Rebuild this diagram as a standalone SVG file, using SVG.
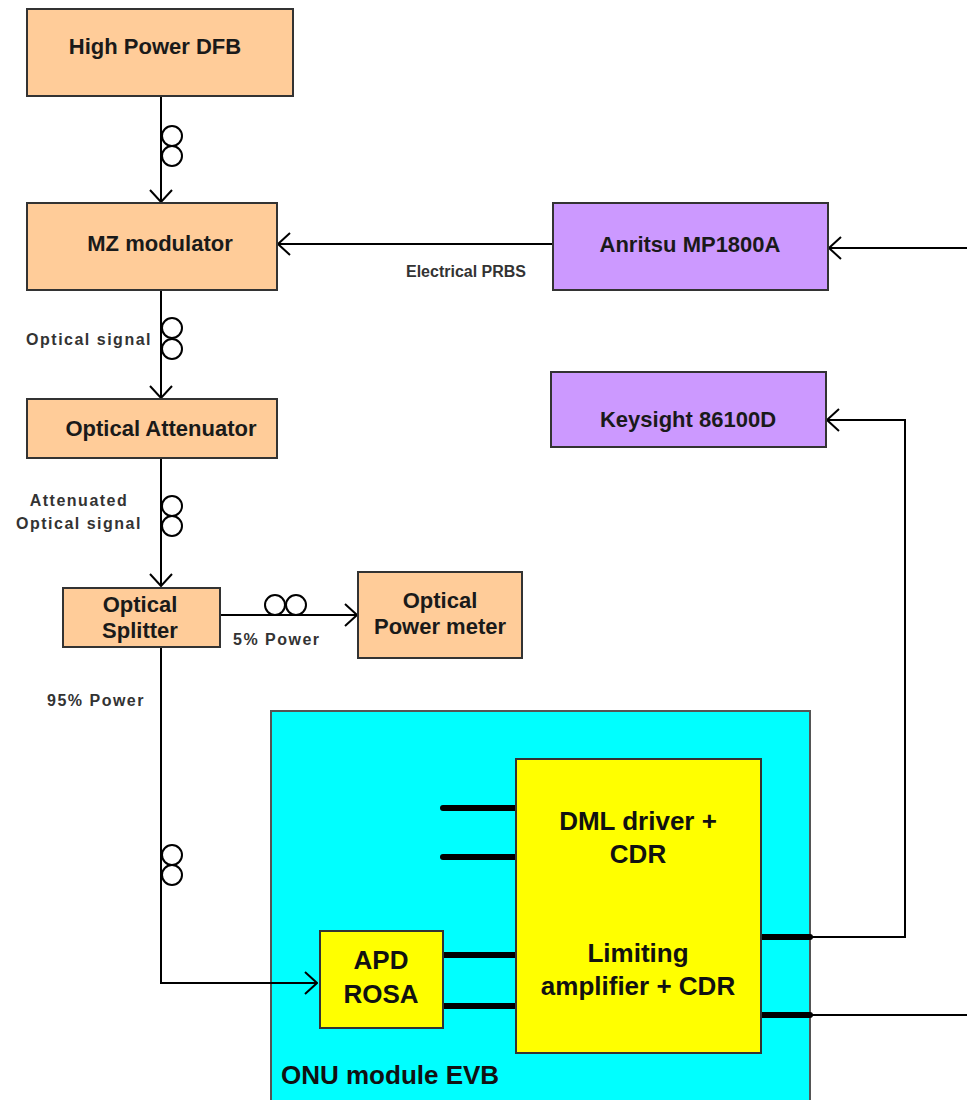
<svg xmlns="http://www.w3.org/2000/svg" width="967" height="1100" viewBox="0 0 967 1100">
<style>
.box{stroke:#333;stroke-width:2}
.org{fill:#FFCC99}
.pur{fill:#CC99FF}
.cyan{fill:#00FFFF;stroke:#555;stroke-width:2}
.yel{fill:#FFFF00;stroke:#333;stroke-width:2}
.lbl{font-family:"Liberation Sans",Arial,sans-serif;font-weight:bold;font-size:22px;fill:#1a1a1a;text-anchor:middle}
.big{font-family:"Liberation Sans",Arial,sans-serif;font-weight:bold;font-size:26px;fill:#111;text-anchor:middle}
.sm{font-family:"Liberation Sans",Arial,sans-serif;font-weight:bold;font-size:16px;fill:#333;letter-spacing:1.5px}
.ln{fill:none;stroke:#000;stroke-width:2}
.coil{fill:#fff;stroke:#000;stroke-width:2}
.stub{stroke:#000;stroke-width:6;stroke-linecap:round}
</style>
<defs>
<marker id="arr" viewBox="0 0 14 24" refX="13" refY="12" markerWidth="14" markerHeight="24" markerUnits="userSpaceOnUse" orient="auto">
<path d="M1,1 L13,12 L1,23" fill="none" stroke="#000" stroke-width="2"/>
</marker>
</defs>
<g id="onu">
<rect class="cyan" x="271" y="711" width="539" height="400"/>
<text class="big" x="281" y="1084" style="text-anchor:start">ONU module EVB</text>
</g>
<g id="connectors">
<line class="ln" x1="161" y1="96" x2="161" y2="202" marker-end="url(#arr)"/>
<line class="ln" x1="161" y1="290" x2="161" y2="398" marker-end="url(#arr)"/>
<line class="ln" x1="161" y1="458" x2="161" y2="586" marker-end="url(#arr)"/>
<line class="ln" x1="553" y1="244" x2="278" y2="244" marker-end="url(#arr)"/>
<line class="ln" x1="967" y1="248" x2="829" y2="248" marker-end="url(#arr)"/>
<line class="ln" x1="220" y1="615" x2="357" y2="615" marker-end="url(#arr)"/>
<polyline class="ln" points="161,647 161,983 317,983" marker-end="url(#arr)"/>
<polyline class="ln" points="810,937 905,937 905,420 827,420" marker-end="url(#arr)"/>
<line class="ln" x1="810" y1="1015" x2="967" y2="1015"/>
<circle class="coil" cx="172" cy="136" r="10"/>
<circle class="coil" cx="172" cy="156" r="10"/>
<circle class="coil" cx="172" cy="328" r="10"/>
<circle class="coil" cx="172" cy="349" r="10"/>
<circle class="coil" cx="172" cy="506" r="10"/>
<circle class="coil" cx="172" cy="526" r="10"/>
<circle class="coil" cx="172" cy="855" r="10"/>
<circle class="coil" cx="172" cy="875" r="10"/>
<circle class="coil" cx="275" cy="605" r="10"/>
<circle class="coil" cx="296" cy="605" r="10"/>
<line class="stub" x1="443" y1="808" x2="516" y2="808"/>
<line class="stub" x1="443" y1="857" x2="516" y2="857"/>
<line class="stub" x1="443" y1="955" x2="516" y2="955"/>
<line class="stub" x1="443" y1="1006" x2="516" y2="1006"/>
<line class="stub" x1="761" y1="937" x2="810" y2="937"/>
<line class="stub" x1="761" y1="1015" x2="810" y2="1015"/>
<text class="sm" x="466" y="277" style="text-anchor:middle;letter-spacing:0">Electrical PRBS</text>
<text class="sm" x="152" y="345" style="text-anchor:end">Optical signal</text>
<text class="sm" x="79" y="506" style="text-anchor:middle">Attenuated</text>
<text class="sm" x="79" y="529" style="text-anchor:middle">Optical signal</text>
<text class="sm" x="233" y="645">5% Power</text>
<text class="sm" x="47" y="706">95% Power</text>
</g>
<g id="dfb">
<rect class="box org" x="27" y="9" width="266" height="87"/>
<text class="lbl" x="155" y="54">High Power DFB</text>
</g>
<g id="mz">
<rect class="box org" x="27" y="203" width="250" height="87"/>
<text class="lbl" x="160" y="251">MZ modulator</text>
</g>
<g id="anritsu">
<rect class="box pur" x="553" y="203" width="275" height="87"/>
<text class="lbl" x="690" y="252">Anritsu MP1800A</text>
</g>
<g id="keysight">
<rect class="box pur" x="551" y="372" width="275" height="75"/>
<text class="lbl" x="688" y="427">Keysight 86100D</text>
</g>
<g id="attenuator">
<rect class="box org" x="27" y="399" width="250" height="59"/>
<text class="lbl" x="161" y="436">Optical Attenuator</text>
</g>
<g id="splitter">
<rect class="box org" x="63" y="588" width="157" height="59"/>
<text class="lbl" x="140" y="612">Optical</text>
<text class="lbl" x="140" y="638">Splitter</text>
</g>
<g id="powermeter">
<rect class="box org" x="358" y="572" width="164" height="86"/>
<text class="lbl" x="440" y="608">Optical</text>
<text class="lbl" x="440" y="634">Power meter</text>
</g>
<g id="dml">
<rect class="yel" x="516" y="759" width="245" height="294"/>
<text class="big" x="638" y="830">DML driver +</text>
<text class="big" x="638" y="863">CDR</text>
<text class="big" x="638" y="962">Limiting</text>
<text class="big" x="638" y="995">amplifier + CDR</text>
</g>
<g id="apd">
<rect class="yel" x="320" y="931" width="123" height="97"/>
<text class="big" x="381" y="969">APD</text>
<text class="big" x="381" y="1003">ROSA</text>
</g>
</svg>
